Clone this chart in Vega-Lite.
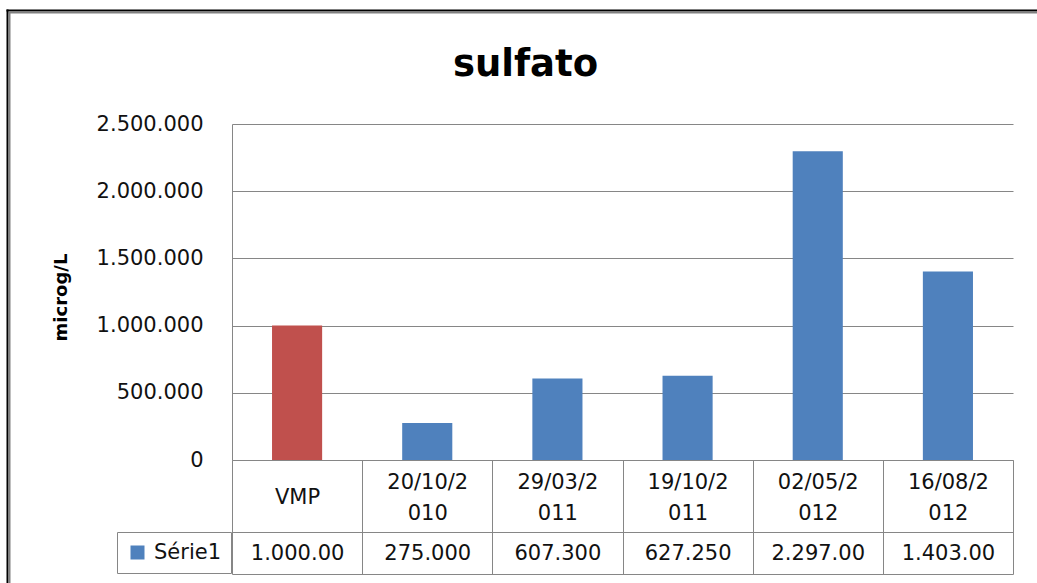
{
  "$schema": "https://vega.github.io/schema/vega-lite/v6.json",
  "usermeta": {"embedOptions": {"actions": false}},
  "autosize": {"type": "none"},
  "padding": {"left": 232, "top": 124, "right": 24, "bottom": 123},
  "width": 781,
  "height": 336,
  "background": "white",
  "title": {
    "text": "sulfato",
    "font": "DejaVu Sans",
    "fontSize": 37,
    "fontWeight": "bold",
    "color": "#000000",
    "anchor": "middle",
    "dx": -97,
    "baseline": "alphabetic",
    "offset": -103
  },
  "config": {
    "view": {"stroke": null},
    "locale": {"number": {"decimal": ",", "thousands": ".", "grouping": [3], "currency": ["R$", ""]}},
    "axis": {"labelFont": "DejaVu Sans", "titleFont": "DejaVu Sans", "labelColor": "#111111", "domainColor": "#868686", "tickColor": "#868686", "gridColor": "#868686"}
  },
  "data": {
    "values": [
      {"cat": "VMP", "tabela": "1.000.00", "valor": 1000000, "tipo": "VMP"},
      {"cat": "20/10/2010", "tabela": "275.000", "valor": 275000, "tipo": "Série1"},
      {"cat": "29/03/2011", "tabela": "607.300", "valor": 607300, "tipo": "Série1"},
      {"cat": "19/10/2011", "tabela": "627.250", "valor": 627250, "tipo": "Série1"},
      {"cat": "02/05/2012", "tabela": "2.297.00", "valor": 2297000, "tipo": "Série1"},
      {"cat": "16/08/2012", "tabela": "1.403.00", "valor": 1403000, "tipo": "Série1"}
    ]
  },
  "resolve": {"scale": {"x": "independent", "y": "independent"}},
  "layer": [
    {
      "mark": {"type": "bar", "width": {"band": 0.385}},
      "encoding": {
        "x": {
          "field": "cat", "type": "nominal", "sort": null,
          "scale": {"paddingInner": 0, "paddingOuter": 0},
          "axis": {
            "orient": "bottom", "title": null, "labelAngle": 0,
            "tickBand": "extent", "tickSize": 114, "tickWidth": 1,
            "domainWidth": 1,
            "labelFontSize": 21, "labelLineHeight": 31, "labelBaseline": "middle",
            "labelPadding": {"condition": {"test": "datum.value === 'VMP'", "value": -77}, "value": -92},
            "labelExpr": "length(datum.label) > 7 ? [slice(datum.label, 0, 7), slice(datum.label, 7)] : datum.label"
          }
        },
        "y": {
          "field": "valor", "type": "quantitative",
          "scale": {"domain": [0, 2500000], "nice": false},
          "axis": {
            "orient": "left", "title": "microg/L",
            "values": [0, 500000, 1000000, 1500000, 2000000, 2500000],
            "format": ",d", "ticks": false, "labelPadding": 29, "labelFontSize": 21,
            "grid": true, "gridWidth": 1, "domainWidth": 1,
            "titleFontSize": 18, "titleFontWeight": "bold", "titleColor": "#000000",
            "titleX": -171, "titleY": 173, "titleAngle": 270, "titleBaseline": "middle", "titleAlign": "center"
          }
        },
        "color": {
          "field": "tipo", "type": "nominal",
          "scale": {"domain": ["VMP", "Série1"], "range": ["#C0504D", "#4F81BD"]},
          "legend": {
            "values": ["Série1"], "title": null, "orient": "none",
            "legendX": -115, "legendY": 408,
            "strokeColor": "#868686", "padding": 10,
            "symbolType": "square", "symbolSize": 196, "symbolStrokeWidth": 0, "symbolOpacity": 1,
            "labelFont": "DejaVu Sans", "labelFontSize": 21, "labelColor": "#111111", "labelOffset": 6
          }
        }
      }
    },
    {
      "mark": {"type": "point", "opacity": 0},
      "encoding": {
        "x": {
          "field": "tabela", "type": "nominal", "sort": null,
          "axis": {
            "orient": "bottom", "title": null, "offset": 72, "ticks": false, "labelAngle": 0,
            "domainWidth": 1, "labelFontSize": 21, "labelBaseline": "middle", "labelPadding": 21
          }
        }
      }
    },
    {
      "mark": {"type": "point", "opacity": 0},
      "encoding": {
        "x": {
          "field": "cat", "type": "nominal", "sort": null,
          "axis": {"orient": "bottom", "title": null, "offset": 114, "ticks": false, "labels": false, "domainWidth": 1}
        }
      }
    },
    {
      "mark": {"type": "point", "opacity": 0},
      "encoding": {
        "x": {
          "field": "cat", "type": "nominal", "sort": null,
          "scale": {"range": [-226, 808]},
          "axis": {"orient": "top", "title": null, "offset": 114, "ticks": false, "labels": false, "domainWidth": 2, "domainColor": "#000000"}
        },
        "y": {
          "field": "valor", "type": "quantitative",
          "scale": {"range": [470, -115]},
          "axis": {"orient": "left", "title": null, "offset": 225, "ticks": false, "labels": false, "grid": false, "domainWidth": 2, "domainColor": "#000000"}
        }
      }
    },
    {
      "mark": {"type": "point", "opacity": 0},
      "encoding": {
        "x": {
          "field": "cat", "type": "nominal", "sort": null,
          "scale": {"range": [-224, 808]},
          "axis": {"orient": "top", "title": null, "offset": 112, "ticks": false, "labels": false, "domainWidth": 2, "domainColor": "#808080"}
        },
        "y": {
          "field": "valor", "type": "quantitative",
          "scale": {"range": [470, -113]},
          "axis": {"orient": "left", "title": null, "offset": 223, "ticks": false, "labels": false, "grid": false, "domainWidth": 2, "domainColor": "#808080"}
        }
      }
    }
  ]
}
